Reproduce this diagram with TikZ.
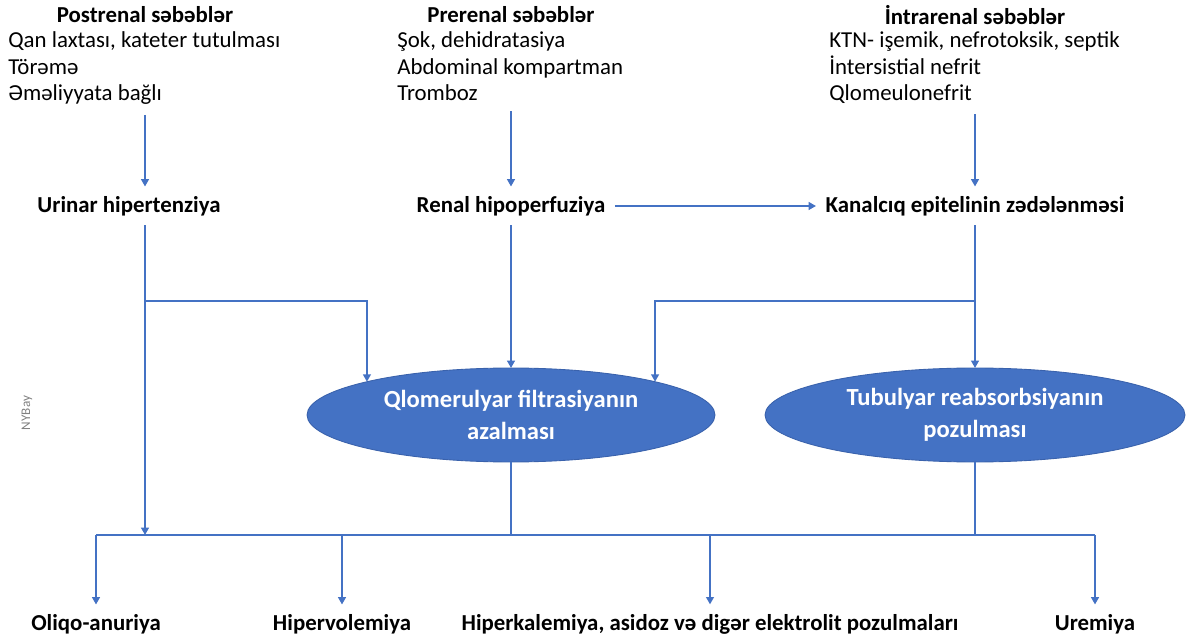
\documentclass[tikz,border=0pt]{standalone}
\usepackage{fontspec}
\setmainfont{Carlito}
\usetikzlibrary{arrows.meta,shapes.geometric}
\definecolor{ppblue}{HTML}{4472C4}
\definecolor{ppedge}{HTML}{3A62AC}

\begin{document}
\begin{tikzpicture}[
		x=0.02cm, y=-0.02cm,
		every node/.style={inner sep=0pt, font=\fontsize{13}{15.3}\selectfont},
		head/.style={font=\fontsize{13}{15.3}\selectfont\bfseries},
		causes/.style={align=left, anchor=north west},
		stage/.style={font=\fontsize{13}{15.3}\selectfont\bfseries, outer sep=5.5pt},
		oval/.style={ellipse, fill=ppblue, draw=ppedge, line width=0.5pt,
			minimum height=1.88cm, outer sep=0pt, align=center, text=white,
			font=\fontsize{14}{18}\selectfont\bfseries},
		wire/.style={draw=ppblue, line width=1.1pt},
		link/.style={wire, -{Triangle[width=4.4pt,length=4.2pt]}},
		line cap=butt,
		line join=miter
		]
		\useasboundingbox (0,0) rectangle (1186,641);
		
		% =========================
		% Column positions
		% =========================
		\def\colA{145}
		\def\colB{511}
		\def\colC{975}
		
		% --------------------------------
		% Causes, top row
		% --------------------------------
		\node[head] (posthead) at (\colA,15) {Postrenal səbəblər};
		\node[causes] (postlist) at (8,31)
		{Qan laxtası, kateter tutulması\\Törəmə\\Əməliyyata bağlı};
		
		\node[head] (prehead) at (\colB,15) {Prerenal səbəblər};
		\node[causes] (prelist) at (397,31)
		{Şok, dehidratasiya\\Abdominal kompartman\\Tromboz};
		
		\node[head] (intrahead) at (\colC,15) {İntrarenal səbəblər};
		\node[causes] (intralist) at (829,31)
		{KTN- işemik, nefrotoksik, septik\\İntersistial nefrit\\Qlomeulonefrit};
		
		% --------------------------------
		% Middle row
		% --------------------------------
		\node[stage] (urinar) at (129,206) {Urinar hipertenziya};
		\node[stage] (renal) at (\colB,206) {Renal hipoperfuziya};
		\node[stage] (kanal) at (\colC,206) {Kanalcıq epitelinin zədələnməsi};
		
		% --------------------------------
		% Ovals
		% --------------------------------
		\node[oval, minimum width=8.16cm] (glom) at (\colB,415)
		{Qlomerulyar filtrasiyanın\\azalması};
		\node[oval, minimum width=8.4cm] (tub) at (\colC,415)
		{Tubulyar reabsorbsiyanın\\pozulması};
		
		% --------------------------------
		% Outcomes, bottom row
		% --------------------------------
		\node[stage] (oliqo) at (96,624) {Oliqo-anuriya};
		\node[stage] (hiperv) at (342,624) {Hipervolemiya};
		\node[stage] (hiperk) at (710,624) {Hiperkalemiya, asidoz və digər elektrolit pozulmaları};
		\node[stage] (uremi) at (1095,624) {Uremiya};
		
		\node[rotate=90, text=gray, font=\fontsize{7.5}{9}\selectfont] (mark) at (27,413) {NYBay};
		
		% --------------------------------
		% Junctions
		% --------------------------------
		\coordinate (urjoin) at (\colA,301);
		\coordinate (kjoin) at (\colC,301);
		\coordinate (bus) at (\colB,535);
		
		% --------------------------------
		% Connectors
		% --------------------------------
		\draw[link, shorten <=5.5pt] (postlist.south -| urjoin) -- (urjoin |- urinar.north);
		\draw[link, shorten <=5.5pt] (prelist.south -| renal) -- (renal);
		\draw[link, shorten <=5.5pt] (intralist.south -| kanal) -- (kanal);
		
		\draw[link] (renal) -- (kanal);
		
		\draw[link] (urjoin |- urinar.south) -- (urjoin |- bus);
		\draw[link] (urjoin) -| (glom.167);
		\draw[link] (renal) -- (glom);
		\draw[link] (kanal) -- (tub);
		\draw[link] (kjoin) -| (glom.13);
		
		\draw[wire] (glom.south) -- (bus);
		\draw[wire] (tub.south) -- (tub |- bus);
		\draw[wire] (oliqo |- bus) -- (uremi |- bus);
		\foreach \n in {oliqo,hiperv,hiperk,uremi}
		{
			\draw[link] (\n |- bus) -- (\n);
		}
		
	\end{tikzpicture}
\end{document}
